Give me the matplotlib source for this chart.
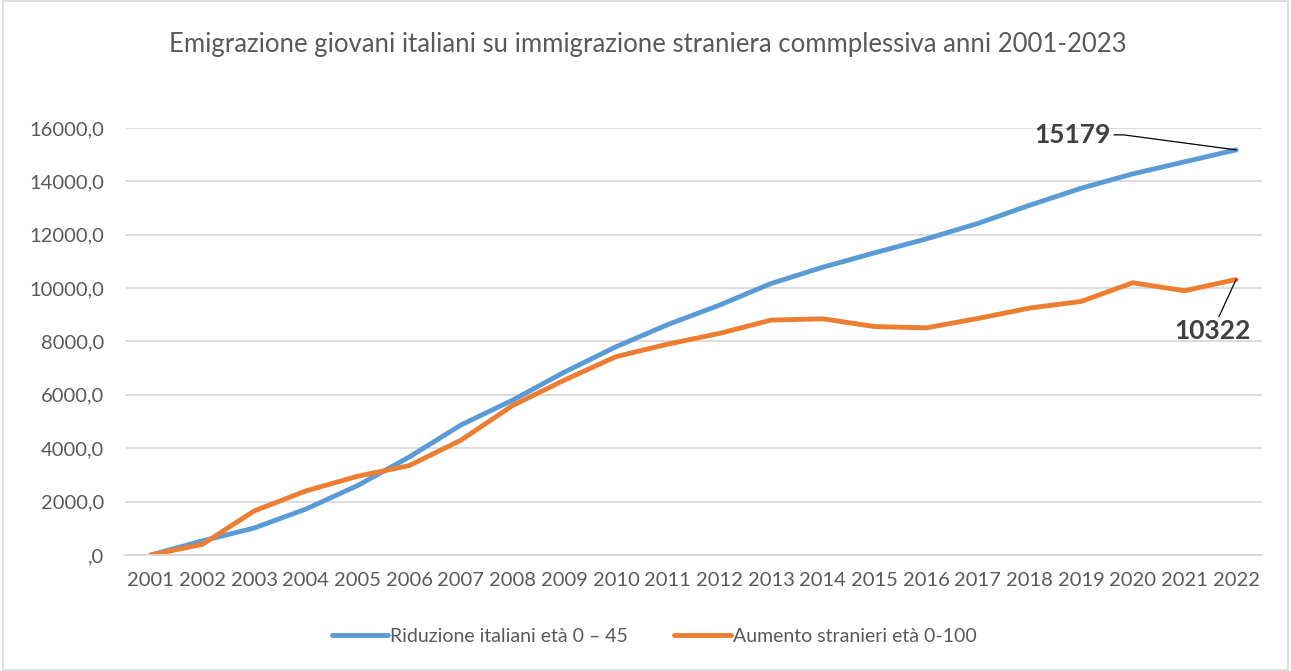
import matplotlib.pyplot as plt
from matplotlib.patches import Rectangle
from matplotlib.ticker import FuncFormatter

years = list(range(2001, 2023))
italiani = [0, 530, 1010, 1720, 2600, 3670, 4870, 5800, 6850, 7800,
            8630, 9360, 10170, 10780, 11320, 11840, 12420, 13100, 13740,
            14280, 14730, 15179]
stranieri = [0, 400, 1650, 2400, 2950, 3350, 4300, 5600, 6550, 7430,
             7900, 8300, 8800, 8850, 8560, 8510, 8860, 9250, 9500,
             10200, 9900, 10322]
y_ticks = [0, 2000, 4000, 6000, 8000, 10000, 12000, 14000, 16000]

title = 'Emigrazione giovani italiani su immigrazione straniera commplessiva anni 2001-2023'
label_ita = 'Riduzione italiani età 0 – 45'
label_str = 'Aumento stranieri età 0-100'

plt.rcParams['font.family'] = ['Lato', 'DejaVu Sans']

blue = '#5b9bd5'
orange = '#ed7d31'
grey_txt = '#595959'
grid_col = '#d9d9d9'

fig = plt.figure(figsize=(12.91, 6.71), dpi=100)
ax = fig.add_axes([0.0968, 0.1729, 0.8807, 0.6364])

ax.plot(years, italiani, color=blue, lw=3.5, label=label_ita, solid_capstyle='round')
ax.plot(years, stranieri, color=orange, lw=3.5, label=label_str, solid_capstyle='round')

ax.set_xlim(2000.5, 2022.5)
ax.set_ylim(0, 16000)
ax.set_yticks(y_ticks)
ax.set_xticks(years)


def fmt_it(v, pos):
    s = f'{v:.1f}'.replace('.', ',')
    return ',0' if v == 0 else s


ax.yaxis.set_major_formatter(FuncFormatter(fmt_it))
ax.tick_params(axis='both', length=0, labelsize=14.5, colors=grey_txt)
ax.tick_params(axis='y', pad=15)
ax.tick_params(axis='x', pad=12)
ax.grid(axis='y', color=grid_col, lw=1.3)
ax.set_axisbelow(True)
for side in ['top', 'right', 'left']:
    ax.spines[side].set_visible(False)
ax.spines['bottom'].set_color(grid_col)
ax.spines['bottom'].set_linewidth(1.3)

# etichette dei valori finali
ax.annotate(str(italiani[-1]), xy=(years[-1], italiani[-1]),
            xytext=(-125, 15), textcoords='offset pixels',
            ha='right', va='center', fontsize=19, fontweight='bold', color='#404040',
            arrowprops=dict(arrowstyle='-', color='black', lw=0.9,
                            shrinkA=0, shrinkB=0,
                            connectionstyle='angle,angleA=0,angleB=-7.6,rad=0'))
ax.annotate(str(stranieri[-1]), xy=(years[-1], stranieri[-1]),
            xytext=(-24, -52), textcoords='offset pixels',
            ha='center', va='center', fontsize=19, fontweight='bold', color='#404040',
            arrowprops=dict(arrowstyle='-', color='black', lw=0.9,
                            shrinkA=0, shrinkB=0))

fig.text(0.502, 0.933, title, ha='center', va='center', fontsize=18.5, color=grey_txt)

fig.legend(loc='center', bbox_to_anchor=(0.5066, 0.051), ncol=2, frameon=False,
           fontsize=14, labelcolor=grey_txt, handlelength=2.9,
           handletextpad=0.1, columnspacing=2.4)

fig.patches.append(Rectangle((0.002, 0.002), 0.996, 0.996, transform=fig.transFigure,
                             fill=False, edgecolor=grid_col, lw=1.2))

fig.savefig('out.png', dpi=100)
